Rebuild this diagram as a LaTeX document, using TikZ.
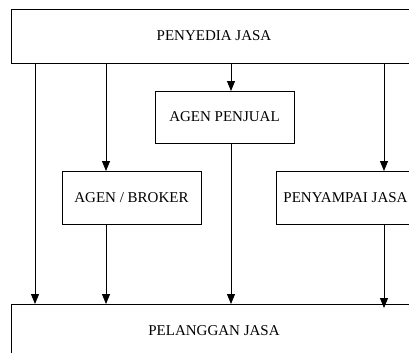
\documentclass[tikz,border=0pt]{standalone}
\usepackage{fontspec}
\setmainfont{Liberation Serif}
\usetikzlibrary{arrows.meta,positioning}

\begin{document}
\begin{tikzpicture}[x=1bp, y=-1bp,
    every node/.style={font=\fontsize{15bp}{18bp}\selectfont},
    kotak/.style={draw, line width=0.9bp, outer sep=0pt, inner sep=0pt},
    panah/.style={line width=0.9bp, -{Triangle[length=10bp,width=8bp]}}]
            \clip (0,0) rectangle (409,353);
            % kotak besar atas dan bawah
            \node[kotak, minimum width=406bp, minimum height=54bp] (penyedia) at (214,36) {PENYEDIA JASA};
            \node[kotak, minimum width=406bp, minimum height=54bp] (pelanggan) at (214,331) {PELANGGAN JASA};
            % perantara
            \node[kotak, minimum width=139bp, minimum height=52bp] (penjual) at (224.5,117) {AGEN PENJUAL};
            \node[kotak, minimum width=139bp, minimum height=53bp] (broker) at (131.5,197.5) {AGEN / BROKER};
            \node[kotak, minimum width=139bp, minimum height=53bp] (penyampai) at (345.5,197.5) {PENYAMPAI JASA};
            % jalur distribusi
            \coordinate (jalur1) at (35,0);
            \coordinate (jalur2) at (106,0);
            \coordinate (jalur3) at (231,0);
            \coordinate (jalur4) at (384,0);
            \draw[panah] (penyedia.south -| jalur1) -- (pelanggan.north -| jalur1);
            \draw[panah] (penyedia.south -| jalur2) -- (broker.north -| jalur2);
            \draw[panah] (broker.south -| jalur2) -- (pelanggan.north -| jalur2);
            \draw[panah] (penyedia.south -| jalur3) -- (penjual.north -| jalur3);
            \draw[panah] (penjual.south -| jalur3) -- (pelanggan.north -| jalur3);
            \draw[panah] (penyedia.south -| jalur4) -- (penyampai.north -| jalur4);
            \draw[panah] (penyampai.south -| jalur4) -- ([yshift=-4bp]pelanggan.north -| jalur4);
        \end{tikzpicture}
\end{document}
